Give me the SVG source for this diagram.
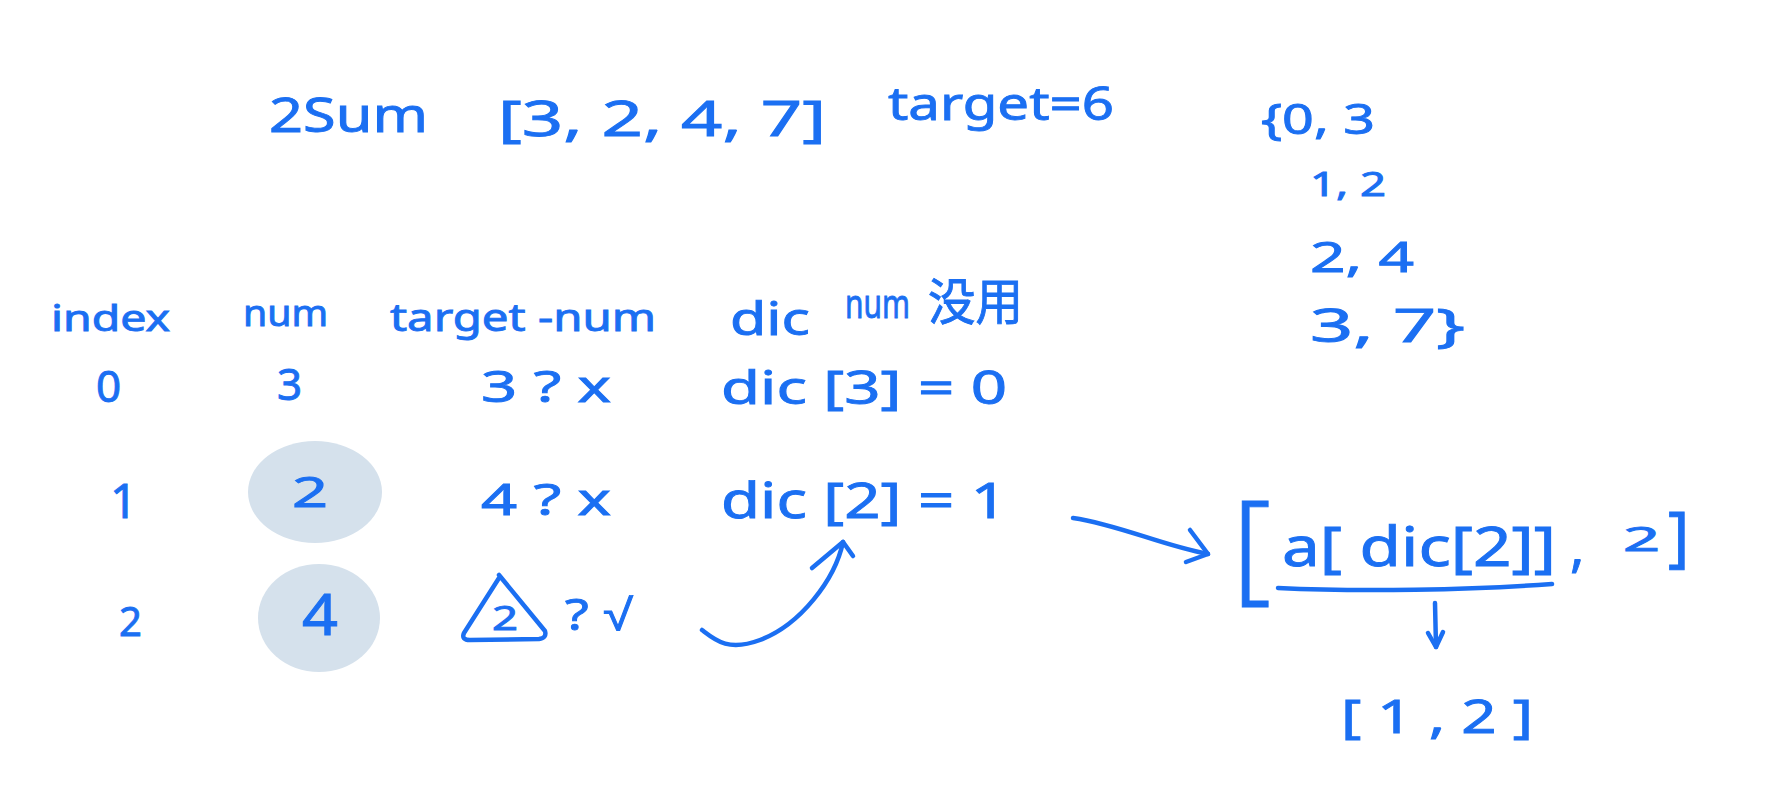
<svg xmlns="http://www.w3.org/2000/svg" width="1774" height="796" viewBox="0 0 1774 796">
  <style>
    .t { font-family: "Noto Sans", "Liberation Sans", "Noto Sans CJK SC", sans-serif; fill: #1b6ff2; stroke: #1b6ff2; stroke-width: 0.9; }
    .blob { fill: #d5e1ec; }
    .ink { fill: none; stroke: #1b6ff2; stroke-width: 4.5; stroke-linecap: round; stroke-linejoin: round; }
  </style>
  <rect width="1774" height="796" fill="#ffffff"/>

  <g id="title">
    <text class="t" x="269" y="132" font-size="48" textLength="159" lengthAdjust="spacingAndGlyphs">2Sum</text>
    <text class="t" x="498" y="136" font-size="50" textLength="328" lengthAdjust="spacingAndGlyphs">[3, 2, 4, 7]</text>
    <text class="t" x="888" y="120" font-size="46" textLength="226" lengthAdjust="spacingAndGlyphs">target=6</text>
  </g>

  <g id="dict">
    <text class="t" x="1261" y="134" font-size="42" textLength="114" lengthAdjust="spacingAndGlyphs">{0, 3</text>
    <text class="t" x="1310" y="196" font-size="32" textLength="76" lengthAdjust="spacingAndGlyphs">1, 2</text>
    <text class="t" x="1310" y="272" font-size="42" textLength="104" lengthAdjust="spacingAndGlyphs">2, 4</text>
    <text class="t" x="1310" y="342" font-size="46" textLength="155" lengthAdjust="spacingAndGlyphs">3, 7}</text>
  </g>

  <g id="headers">
    <text class="t" x="51" y="331" font-size="36" textLength="119" lengthAdjust="spacingAndGlyphs">index</text>
    <text class="t" x="243" y="326" font-size="36" textLength="85" lengthAdjust="spacingAndGlyphs">num</text>
    <text class="t" x="390" y="331" font-size="38" textLength="266" lengthAdjust="spacingAndGlyphs">target -num</text>
    <text class="t" x="730" y="335" font-size="46" textLength="80" lengthAdjust="spacingAndGlyphs">dic</text>
    <text class="t" x="845" y="318" font-size="40" textLength="65" lengthAdjust="spacingAndGlyphs">num</text>
    <text class="t" x="928" y="320" font-size="50" textLength="95" lengthAdjust="spacingAndGlyphs">没用</text>
  </g>

  <g id="row0">
    <text class="t" x="96" y="402" font-size="44">0</text>
    <text class="t" x="277" y="400" font-size="44">3</text>
    <text class="t" x="481" y="402" font-size="44" textLength="130" lengthAdjust="spacingAndGlyphs">3 ? x</text>
    <text class="t" x="721" y="404" font-size="46" textLength="286" lengthAdjust="spacingAndGlyphs">dic [3] = 0</text>
  </g>

  <g id="row1">
    <text class="t" x="110" y="518" font-size="48">1</text>
    <ellipse class="blob" cx="315" cy="492" rx="67" ry="51"/>
    <text class="t" x="292" y="507" font-size="42" textLength="36" lengthAdjust="spacingAndGlyphs">2</text>
    <text class="t" x="481" y="515" font-size="44" textLength="130" lengthAdjust="spacingAndGlyphs">4 ? x</text>
    <text class="t" x="721" y="518" font-size="50" textLength="286" lengthAdjust="spacingAndGlyphs">dic [2] = 1</text>
  </g>

  <g id="row2">
    <text class="t" x="119" y="636" font-size="40">2</text>
    <ellipse class="blob" cx="319" cy="618" rx="61" ry="54"/>
    <text class="t" x="302" y="635" font-size="56" textLength="36" lengthAdjust="spacingAndGlyphs">4</text>
    <path class="ink" d="M499,578 L464,633 Q461,640 470,640 L539,639 Q547,638 545,631 L499,575"/>
    <text class="t" x="492" y="630" font-size="32" textLength="26" lengthAdjust="spacingAndGlyphs">2</text>
    <text class="t" x="565" y="630" font-size="44" textLength="68" lengthAdjust="spacingAndGlyphs">? √</text>
  </g>

  <g id="result">
    <text class="t" x="1232" y="588" font-size="122" font-weight="300">[</text>
    <text class="t" x="1282" y="566" font-size="54" textLength="274" lengthAdjust="spacingAndGlyphs">a[ dic[2]]</text>
    <text class="t" x="1570" y="566" font-size="54">,</text>
    <text class="t" x="1623" y="551" font-size="32" textLength="37" lengthAdjust="spacingAndGlyphs">2</text>
    <text class="t" x="1668" y="559" font-size="65">]</text>
    <path class="ink" d="M1278,588 C1360,592 1470,590 1552,584"/>
  </g>

  <g id="answer">
    <text class="t" x="1341" y="733" font-size="46" textLength="192" lengthAdjust="spacingAndGlyphs">[ 1 , 2 ]</text>
  </g>

  <g id="connectors">
    <path class="ink" d="M702,630 C715,640 728,652 760,640 C800,625 835,580 843,542"/>
    <path class="ink" d="M812,568 L843,542 L853,556"/>
    <path class="ink" d="M1073,518 C1120,525 1160,545 1208,554"/>
    <path class="ink" d="M1190,530 L1208,554 L1186,562"/>
    <path class="ink" d="M1435,603 L1436,647"/>
    <path class="ink" d="M1428,633 L1436,647 L1443,632"/>
  </g>
</svg>
